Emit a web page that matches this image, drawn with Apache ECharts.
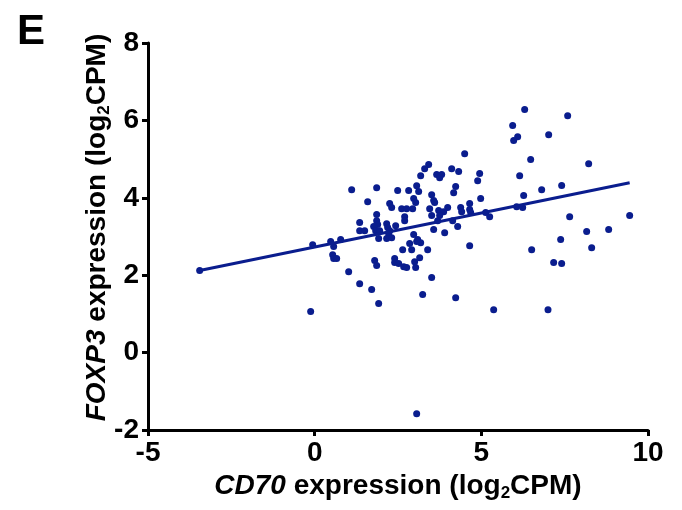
<!DOCTYPE html>
<html>
<head>
<meta charset="utf-8">
<script src="https://cdn.jsdelivr.net/npm/echarts@6/dist/echarts.min.js"></script>
<style>
  html, body { margin: 0; padding: 0; background: #fff; }
  #chart { width: 682px; height: 510px; }
</style>
</head>
<body>
<div id="chart"></div>
<script>
// CD70 (x) vs FOXP3 (y), log2CPM
const cd70 = [
  -3.45, -0.12, -0.06, 0.48, 0.57, 0.78, 0.54, 0.57, 0.66, 1.02, 1.35, 1.71, 1.92, 3.06, 1.80, 1.86,
  1.11, 1.86, 1.59, 2.25, 2.31, 1.86, 1.35, 1.86, 1.89, 2.16, 2.43, 1.35, 1.50, 1.77, 1.83, 1.95, 2.19, 2.25, 2.22, 1.92, 2.16, 2.31,
  2.49, 2.82, 3.12, 3.06, 4.50, 3.42, 3.30, 3.18, 4.11, 4.32, 3.66, 3.81, 3.75, 4.95, 4.89, 4.23, 4.17, 3.51, 2.97, 3.57, 3.60, 3.03, 4.98, 4.65, 2.61, 2.76, 2.94, 3.45, 3.51, 3.99, 3.72, 3.87, 3.75, 4.38, 4.41, 4.65, 4.68,
  5.13, 5.25, 2.70, 2.70, 3.69, 4.14, 4.29, 3.57, 3.90, 2.97, 3.09, 3.18, 2.85, 3.06, 4.65, 2.64, 2.91, 3.39, 3.15, 3.00, 2.40, 2.40, 2.52, 2.67, 2.76, 3.03,
  3.51, 3.24, 4.23, 5.37,
  6.30, 7.59, 5.94, 6.09, 5.97, 7.02, 6.48, 8.22, 6.15, 7.41, 6.81, 6.27, 6.06, 6.24, 7.65, 9.45, 8.16, 8.82, 7.38, 8.31, 6.51, 7.17, 7.41, 7.00
];
const foxp3 = [
  2.12, 1.06, 2.79, 2.87, 2.74, 2.92, 2.53, 2.43, 2.43, 2.09, 1.78, 1.63, 1.27, -1.58, 2.38, 2.25,
  4.21, 4.26, 3.90, 3.85, 3.75, 3.57, 3.36, 3.41, 3.31, 3.33, 3.28, 3.15, 3.15, 3.26, 3.15, 3.15, 3.23, 3.15, 3.07, 2.95, 2.95, 2.97,
  4.19, 4.19, 4.16, 4.31, 5.14, 4.86, 4.75, 4.57, 4.75, 4.68, 4.60, 4.60, 4.52, 4.63, 4.44, 4.29, 4.13, 4.08, 3.98, 3.93, 3.88, 3.88, 3.98, 3.85, 3.72, 3.72, 3.72, 3.72, 3.54, 3.75, 3.67, 3.64, 3.54, 3.75, 3.64, 3.70, 3.62,
  3.62, 3.51, 3.51, 3.41, 3.41, 3.41, 3.26, 3.18, 3.10, 3.05, 2.92, 2.84, 2.82, 2.87, 2.76, 2.66, 2.66, 2.66, 2.45, 2.35, 2.43, 2.33, 2.30, 2.22, 2.20, 2.20,
  1.94, 1.50, 1.42, 1.11,
  6.28, 6.12, 5.87, 5.58, 5.48, 5.63, 4.99, 4.88, 4.57, 4.32, 4.21, 4.06, 3.77, 3.75, 3.51, 3.54, 3.13, 3.18, 2.92, 2.71, 2.66, 2.33, 2.30, 1.11
];
// fitted line, from the leftmost to the rightmost sample
const fitX = [-3.45, 9.45];
const fitY = [2.12, 4.39];

const xTicks = { min: -5, max: 10, interval: 5 };
const yTicks = { min: -2, max: 8, interval: 2 };

const FONT = '"Liberation Sans", Arial, sans-serif';
const BLUE = '#0a1d8e';

function nameRich(size) {
  return {
    i: { fontFamily: FONT, fontSize: size, fontWeight: 'bold', fontStyle: 'italic', color: '#000', lineHeight: 32 },
    b: { fontFamily: FONT, fontSize: size, fontWeight: 'bold', color: '#000', lineHeight: 32 },
    s: { fontFamily: FONT, fontSize: 17, fontWeight: 'bold', color: '#000', lineHeight: 17, verticalAlign: 'bottom' }
  };
}

const axisCommon = {
  axisLine: { show: true, onZero: false, lineStyle: { color: '#000', width: 3 } },
  axisTick: { show: true, inside: false, length: 6, lineStyle: { color: '#000', width: 3 } },
  axisLabel: { color: '#000', fontFamily: FONT, fontSize: 28, fontWeight: 'bold' },
  splitLine: { show: false }
};

const chart = echarts.init(document.getElementById('chart'));
chart.setOption({
  animation: false,
  title: {
    text: 'E', left: 12, top: 6,
    textStyle: { fontFamily: FONT, fontSize: 42, fontWeight: 'bold', color: '#000' }
  },
  grid: { left: 148, right: 34, top: 43, bottom: 80, containLabel: false },
  xAxis: Object.assign({}, axisCommon, {
    type: 'value', min: xTicks.min, max: xTicks.max, interval: xTicks.interval,
    name: '{i|CD70}{b| expression (log}{s|2}{b|CPM)}',
    nameLocation: 'middle', nameGap: 36,
    nameTextStyle: { rich: nameRich(28) },
    axisLabel: Object.assign({}, axisCommon.axisLabel, { margin: 9 })
  }),
  yAxis: Object.assign({}, axisCommon, {
    type: 'value', min: yTicks.min, max: yTicks.max, interval: yTicks.interval,
    name: '{i|FOXP3}{b| expression (log}{s|2}{b|CPM)}',
    nameLocation: 'middle', nameGap: 35, nameMoveOverlap: false,
    nameTextStyle: { rich: nameRich(28), padding: [0, 0, 0, 18] },
    axisLabel: Object.assign({}, axisCommon.axisLabel, { margin: 9 })
  }),
  series: [
    {
      type: 'scatter',
      data: cd70.map(function (x, i) { return [x, foxp3[i]]; }),
      symbolSize: 7,
      itemStyle: { color: BLUE, opacity: 1 }
    },
    {
      type: 'line',
      data: fitX.map(function (x, i) { return [x, fitY[i]]; }),
      showSymbol: false,
      lineStyle: { color: BLUE, width: 3 },
      z: 3
    }
  ]
});
</script>
</body>
</html>
